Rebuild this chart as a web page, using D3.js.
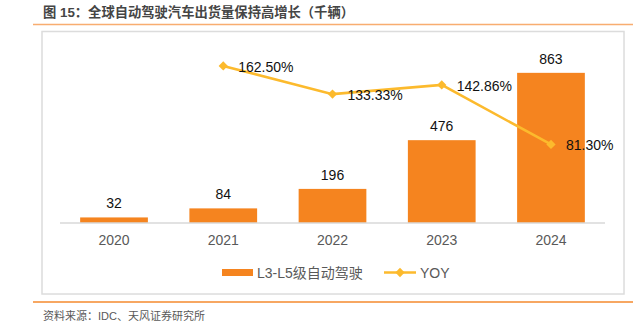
<!DOCTYPE html>
<html>
<head>
<meta charset="utf-8">
<script src="https://cdn.jsdelivr.net/npm/d3@7/dist/d3.min.js"></script>
<style>
  html, body { margin: 0; padding: 0; background: #fff; }
  svg { display: block; }
</style>
</head>
<body>
<svg id="chart" width="640" height="332"></svg>
<script>
// Annual shipments (thousand units) and year-over-year growth
const years = ["2020", "2021", "2022", "2023", "2024"];
const shipments = [32, 84, 196, 476, 863];
const yoyYears = ["2021", "2022", "2023", "2024"];
const yoyValues = [162.50, 133.33, 142.86, 81.30];
const yoyLabels = ["162.50%", "133.33%", "142.86%", "81.30%"];

const titleText = "图 15：全球自动驾驶汽车出货量保持高增长（千辆）";
const sourceText = "资料来源：IDC、天风证券研究所";
const barSeriesName = "L3-L5级自动驾驶";
const lineSeriesName = "YOY";

const barColor = "#F5841F";
const lineColor = "#FCBA2D";
const latin = "'Liberation Sans', Arial, 'Noto Sans CJK SC', sans-serif";
const cjk = "'Liberation Sans', 'Noto Sans CJK SC', sans-serif";

const svg = d3.select("#chart");

// Header
svg.append("text")
  .attr("x", 43).attr("y", 17)
  .attr("font-family", cjk).attr("font-size", 13.3).attr("font-weight", "bold")
  .attr("fill", "#454545")
  .text(titleText);
svg.append("line")
  .attr("x1", 33).attr("x2", 633).attr("y1", 24.5).attr("y2", 24.5)
  .attr("stroke", "#F8AD70").attr("stroke-width", 1.5);

// Chart frame
svg.append("rect")
  .attr("x", 42).attr("y", 31.5).attr("width", 582).attr("height", 262.5)
  .attr("fill", "none").attr("stroke", "#DCDCDC").attr("stroke-width", 1.5);

// Footer
svg.append("line")
  .attr("x1", 33).attr("x2", 633).attr("y1", 302).attr("y2", 302)
  .attr("stroke", "#F58A2E").attr("stroke-width", 1.5);
svg.append("text")
  .attr("x", 43).attr("y", 320)
  .attr("font-family", cjk).attr("font-size", 11)
  .attr("fill", "#595959")
  .text(sourceText);

// Scales
const plotTop = 49, plotBottom = 223;
const x = d3.scaleBand().domain(years).range([59.4, 605.6]).paddingInner(0.38).paddingOuter(0.19);
const y = d3.scaleLinear().domain([0, 1000]).range([plotBottom, plotTop]);
const y2 = d3.scaleLinear().domain([0, 180]).range([plotBottom, plotTop]);

// Bars
svg.append("g").selectAll("rect")
  .data(years.map((yr, i) => ({ yr, v: shipments[i] })))
  .join("rect")
  .attr("x", d => x(d.yr))
  .attr("width", x.bandwidth())
  .attr("y", d => y(d.v))
  .attr("height", d => y(0) - y(d.v))
  .attr("fill", barColor);

// Bar value labels
svg.append("g").selectAll("text")
  .data(years.map((yr, i) => ({ yr, v: shipments[i] })))
  .join("text")
  .attr("x", d => x(d.yr) + x.bandwidth() / 2)
  .attr("y", d => y(d.v) - 9)
  .attr("text-anchor", "middle")
  .attr("font-family", latin).attr("font-size", 14)
  .attr("fill", "#111")
  .text(d => d.v);

// Category axis
const xAxis = svg.append("g")
  .attr("transform", `translate(0,${plotBottom})`)
  .call(d3.axisBottom(x).tickSize(0).tickPadding(12));
xAxis.select(".domain").attr("stroke", "#D9D9D9").attr("stroke-width", 1.5)
  .attr("d", "M60,0H605");
xAxis.selectAll("text")
  .attr("font-family", latin).attr("font-size", 14).attr("fill", "#595959");

// YOY line
const cx = yr => x(yr) + x.bandwidth() / 2;
const yoyData = yoyYears.map((yr, i) => ({ yr, v: yoyValues[i], label: yoyLabels[i] }));
svg.append("path")
  .datum(yoyData)
  .attr("fill", "none")
  .attr("stroke", lineColor).attr("stroke-width", 2.5)
  .attr("d", d3.line().x(d => cx(d.yr)).y(d => y2(d.v)));

const diamond = d3.symbol().type(d3.symbolDiamond2).size(55);
svg.append("g").selectAll("path")
  .data(yoyData)
  .join("path")
  .attr("transform", d => `translate(${cx(d.yr)},${y2(d.v)})`)
  .attr("d", diamond)
  .attr("fill", lineColor);

svg.append("g").selectAll("text")
  .data(yoyData)
  .join("text")
  .attr("x", d => cx(d.yr) + 15)
  .attr("y", d => y2(d.v) + 6)
  .attr("font-family", latin).attr("font-size", 14)
  .attr("fill", "#111")
  .text(d => d.label);

// Legend
const lg = svg.append("g");
lg.append("rect").attr("x", 222).attr("y", 269).attr("width", 31).attr("height", 7).attr("fill", barColor);
lg.append("text").attr("x", 257).attr("y", 277.5)
  .attr("font-family", cjk).attr("font-size", 14).attr("fill", "#595959")
  .text(barSeriesName);
lg.append("line").attr("x1", 384).attr("x2", 416).attr("y1", 272.5).attr("y2", 272.5)
  .attr("stroke", lineColor).attr("stroke-width", 2.5);
lg.append("path").attr("transform", "translate(400,272.5)").attr("d", diamond).attr("fill", lineColor);
lg.append("text").attr("x", 420).attr("y", 277.5)
  .attr("font-family", latin).attr("font-size", 14).attr("fill", "#595959")
  .text(lineSeriesName);
</script>
</body>
</html>
